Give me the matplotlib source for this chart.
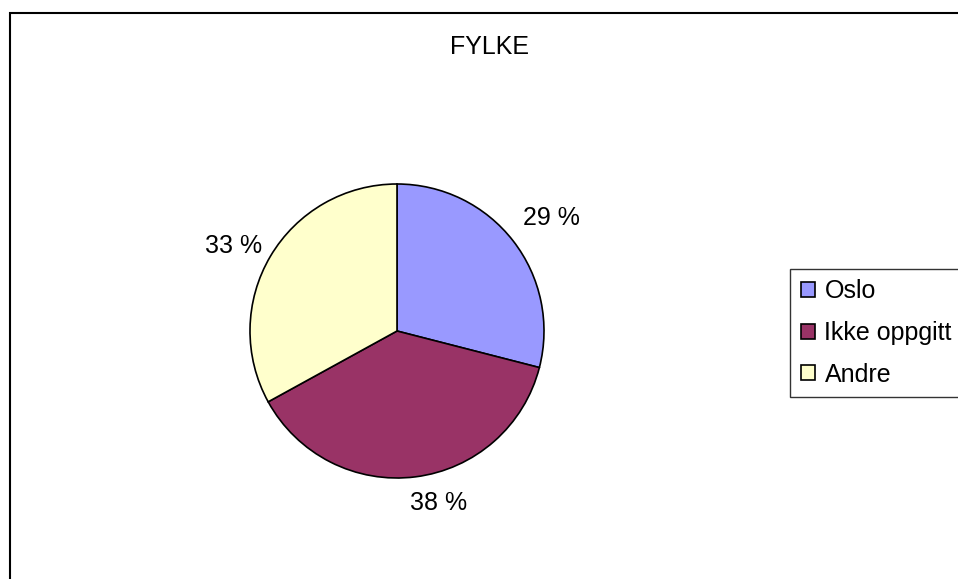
import matplotlib.pyplot as plt
from matplotlib.patches import Rectangle

plt.rcParams['font.family'] = ['Liberation Sans', 'DejaVu Sans']

# Data
categories = ['Oslo', 'Ikke oppgitt', 'Andre']
shares = [29, 38, 33]
colors = ['#9999FF', '#993366', '#FFFFCC']

W, H = 958, 579
fig = plt.figure(figsize=(W / 100, H / 100), dpi=100)

# outer chart border (cut off at right and bottom)
fig.add_artist(Rectangle((10 / W, -0.1), 1.2, (H - 13) / H + 0.1, transform=fig.transFigure,
                         fill=False, edgecolor='black', linewidth=1.5))

# pie axes: centre (397, 331), radius 147 px
cx, cy, r = 397, 331, 147
ax = fig.add_axes([(cx - r) / W, (H - cy - r) / H, 2 * r / W, 2 * r / H])
wedges, texts, autotexts = ax.pie(
    shares, colors=colors, startangle=90, counterclock=False,
    autopct=lambda p: f'{p:.0f} %', pctdistance=1.25,
    wedgeprops=dict(edgecolor='black', linewidth=1.2),
    textprops=dict(fontsize=18))
ax.set_xlim(-1, 1)
ax.set_ylim(-1, 1)
ax.set_aspect('equal')

# label placement relative to the pie (Excel style)
label_pos = [(1.05, 0.77), (0.28, -1.17), (-1.11, 0.58)]
for t, p in zip(autotexts, label_pos):
    t.set_position(p)
    t.set_clip_on(False)

fig.text(490 / W, 1 - 47 / H, 'FYLKE', ha='center', va='center', fontsize=18)

leg = fig.legend(wedges, categories, loc='upper left', bbox_to_anchor=(790 / W, 1 - 269 / H),
                 frameon=True, fancybox=False, edgecolor='black', fontsize=18,
                 handlelength=0.56, handleheight=0.56, handletextpad=0.4,
                 labelspacing=0.7, borderpad=0.42, borderaxespad=0)
leg.get_frame().set_linewidth(1)

fig.savefig('out.png', dpi=100)
